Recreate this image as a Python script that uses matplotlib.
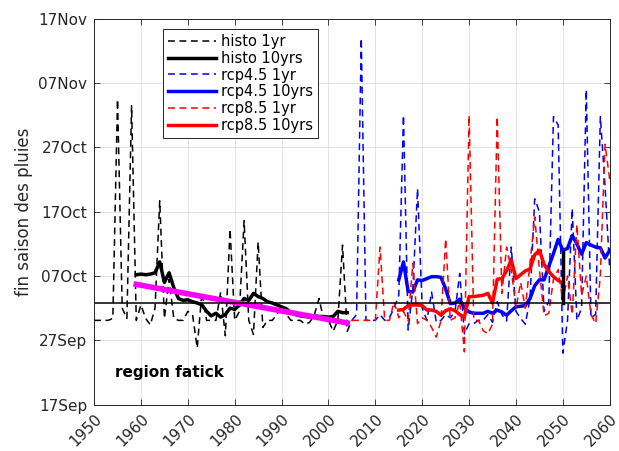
import numpy as np
import matplotlib
matplotlib.use('Agg')
import matplotlib.pyplot as plt

# --- data (day of year, 260 = 17 Sep) ---
histo_years = list(range(1950, 2006))
histo_1yr = [273.1, 273.1, 273.1, 273.1, 273.4, 307.5, 275.0, 273.4, 306.5, 273.1,
             275.5, 273.4, 272.4, 275.0, 291.7, 273.4, 279.5, 273.4, 273.1, 273.1,
             274.5, 274.0, 268.8, 277.5, 273.1, 273.1, 273.1, 277.5, 270.7, 287.3,
             273.1, 274.5, 288.6, 273.1, 270.9, 285.3, 272.0, 273.1, 273.1, 274.0,
             275.5, 274.0, 273.1, 273.1, 273.1, 272.5, 272.8, 274.0, 276.5, 273.1,
             273.1, 271.4, 273.1, 284.8, 271.4, 273.1]

histo_10_years = list(range(1959, 2005))
histo_10yrs = [280.2, 280.3, 280.2, 280.3, 280.5, 282.2, 279.0, 280.5, 278.2, 276.5,
               276.2, 276.3, 276.0, 275.8, 275.5, 274.5, 273.8, 274.2, 273.6, 274.0,
               275.0, 274.8, 275.5, 276.5, 276.2, 277.3, 276.8, 276.5, 276.0, 275.8,
               275.5, 275.2, 274.9, 274.3, 274.0, 273.8, 273.7, 273.6, 273.8, 273.7,
               273.7, 273.6, 273.7, 274.5, 274.3, 274.3]

rcp_years = list(range(2005, 2061))
rcp45_1yr = [273.1, 274.0, 317.0, 273.1, 273.1, 273.1, 274.0, 273.1, 273.5, 275.0,
             277.0, 305.0, 271.6, 278.0, 293.6, 275.0, 273.1, 277.5, 272.8, 273.1,
             274.0, 273.5, 274.5, 280.4, 271.0, 272.6, 272.6, 273.1, 273.1, 274.0,
             272.8, 276.0, 274.0, 273.0, 284.5, 274.5, 273.4, 272.5, 276.5, 292.0,
             290.0, 274.5, 276.0, 304.8, 303.5, 268.0, 273.1, 290.5, 273.1, 275.0,
             309.0, 273.5, 274.0, 304.8, 294.0, 281.0]
rcp85_1yr = [273.1, 273.1, 273.1, 273.1, 273.1, 273.1, 284.5, 273.1, 273.1, 276.0,
             273.5, 274.5, 273.0, 282.0, 272.6, 273.5, 273.1, 272.0, 270.5, 273.0,
             285.8, 273.1, 273.5, 276.0, 268.2, 305.0, 273.1, 273.1, 271.5, 271.0,
             272.5, 304.8, 277.3, 284.5, 281.0, 275.0, 279.0, 275.0, 282.0, 289.2,
             281.0, 273.8, 274.2, 279.5, 281.0, 276.0, 280.0, 274.0, 288.0, 277.0,
             280.0, 274.0, 272.6, 280.0, 300.5, 295.0]

rcp45_10_years = list(range(2015, 2061))
rcp45_10yrs = [279.4, 282.2, 277.6, 277.5, 279.4, 279.3, 279.6, 279.9, 279.9, 279.8,
               278.0, 275.7, 275.8, 276.4, 275.0, 274.4, 274.2, 274.2, 274.2, 274.5,
               274.2, 274.7, 274.4, 273.9, 274.6, 275.2, 275.3, 275.4, 276.5, 278.5,
               279.4, 279.4, 281.5, 283.5, 285.7, 284.0, 284.3, 286.3, 285.0, 283.4,
               285.2, 284.8, 284.5, 284.4, 282.8, 284.0]

rcp85_10_years = list(range(2015, 2051))
rcp85_10yrs = [274.7, 274.8, 275.4, 275.5, 275.5, 275.4, 274.7, 274.7, 274.5, 273.9,
               274.6, 274.9, 274.6, 274.0, 273.6, 276.8, 276.8, 276.9, 277.0, 277.3,
               275.8, 279.5, 279.6, 280.8, 282.5, 279.6, 280.2, 280.8, 281.1, 283.3,
               284.0, 281.8, 280.7, 279.9, 279.3, 278.9]

trend_years = [1959, 2004]
trend_vals = [278.7, 272.7]

ref_level = 275.8
bar_year = [2050, 2050]
bar_vals = [275.8, 283.8]

yticks = [260, 270, 280, 290, 300, 310, 320]
ytick_labels = ['17Sep', '27Sep', '07Oct', '17Oct', '27Oct', '07Nov', '17Nov']
xticks = list(range(1950, 2061, 10))

# --- figure ---
fig = plt.figure(figsize=(6.19, 4.51), dpi=100)
ax = fig.add_axes([0.152, 0.103, 0.833, 0.855])

dash = (4.5, 3.0)
ax.plot(histo_years, histo_1yr, color='k', lw=1.1, dashes=dash, label='histo 1yr')
ax.plot(histo_10_years, histo_10yrs, color='k', lw=2.5, label='histo 10yrs')
ax.plot(rcp_years, rcp45_1yr, color='b', lw=1.1, dashes=dash, label='rcp4.5 1yr')
ax.plot(rcp45_10_years, rcp45_10yrs, color='b', lw=2.5, label='rcp4.5 10yrs')
ax.plot(rcp_years, rcp85_1yr, color='r', lw=1.1, dashes=dash, label='rcp8.5 1yr')
ax.plot(rcp85_10_years, rcp85_10yrs, color='r', lw=2.5, label='rcp8.5 10yrs')
ax.plot(trend_years, trend_vals, color='magenta', lw=4)
ax.axhline(ref_level, color='k', lw=1.1)
ax.plot(bar_year, bar_vals, color='k', lw=2.5)

ax.set_xlim(1950, 2060)
ax.set_ylim(260, 320)
ax.set_xticks(xticks)
ax.set_xticklabels([str(x) for x in xticks], rotation=45, ha='right',
                   rotation_mode='anchor', fontsize=11, color='#262626')
ax.set_yticks(yticks)
ax.set_yticklabels(ytick_labels, fontsize=11, color='#262626')
ax.tick_params(direction='in', top=True, right=True, length=4, width=0.6,
               color='#262626', pad=5)
ax.grid(True, color='#e3e3e3', lw=0.7)
ax.set_axisbelow(True)
for s in ax.spines.values():
    s.set_color('#262626')
    s.set_linewidth(0.7)

ax.set_ylabel('fin saison des pluies', fontsize=12, color='#262626', labelpad=4)
ax.text(0.04, 0.082, 'region fatick', transform=ax.transAxes, fontsize=11,
        fontweight='bold', va='center', ha='left')

leg = ax.legend(loc='upper left', bbox_to_anchor=(0.134, 0.974), fontsize=10.5,
                handlelength=3.3, handletextpad=0.3, labelspacing=0.12,
                borderpad=0.35, borderaxespad=0, fancybox=False, framealpha=1)
leg.get_frame().set_edgecolor('#262626')
leg.get_frame().set_linewidth(0.7)

fig.savefig('out.png', dpi=100)
